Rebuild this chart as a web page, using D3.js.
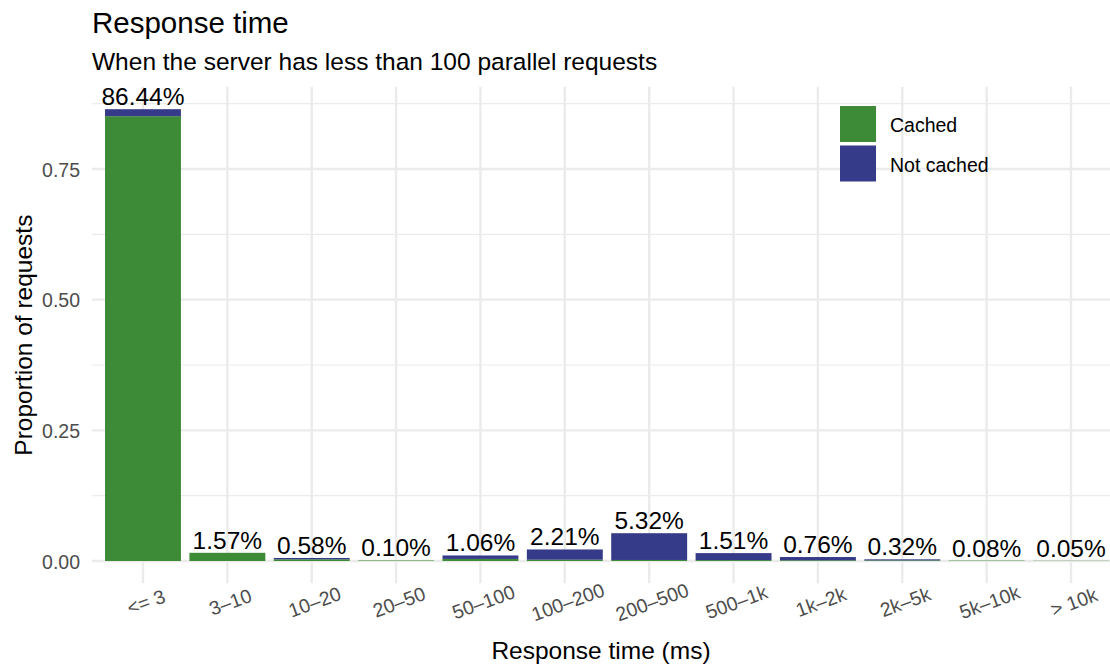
<!DOCTYPE html>
<html>
<head>
<meta charset="utf-8">
<script src="https://cdn.jsdelivr.net/npm/d3@7"></script>
<style>
  html, body { margin: 0; padding: 0; background: #fff; }
  svg { display: block; font-family: "Liberation Sans", Arial, Helvetica, sans-serif; }
</style>
</head>
<body>
<svg id="chart" width="1110" height="668"></svg>
<script>
const categories = ["<= 3", "3–10", "10–20", "20–50", "50–100", "100–200", "200–500", "500–1k", "1k–2k", "2k–5k", "5k–10k", "> 10k"];
const cached    = [0.8510, 0.0157, 0.0033, 0.0010, 0.0040, 0.0025, 0.0020, 0.0018, 0.0015, 0.0012, 0.0008, 0.0005];
const notCached = [0.0134, 0.0000, 0.0025, 0.0000, 0.0066, 0.0196, 0.0512, 0.0133, 0.0061, 0.0020, 0.0000, 0.0000];
const totalLabels = ["86.44%", "1.57%", "0.58%", "0.10%", "1.06%", "2.21%", "5.32%", "1.51%", "0.76%", "0.32%", "0.08%", "0.05%"];
const seriesNames = ["Cached", "Not cached"];
const seriesColors = ["#3d8b37", "#353b88"];
const yTicks = [0, 0.25, 0.5, 0.75];
const yMinor = [0.125, 0.375, 0.625, 0.875];

const svg = d3.select("#chart");
const panel = { left: 92, right: 1110, top: 86.6, bottom: 583.6 };

const rows = categories.map((c, i) => ({ cat: c, Cached: cached[i], "Not cached": notCached[i], label: totalLabels[i] }));
const stack = d3.stack().keys(seriesNames)(rows);
const maxTotal = d3.max(rows, d => d.Cached + d["Not cached"]);

const y = d3.scaleLinear()
  .domain([-0.05 * maxTotal, 1.05 * maxTotal])
  .range([panel.bottom, panel.top]);

const x = d3.scaleBand()
  .domain(categories)
  .range([100.8, 1113.2])
  .paddingInner(0.1)
  .paddingOuter(0.05);

svg.append("defs").append("clipPath").attr("id", "pclip")
  .append("rect").attr("x", panel.left).attr("y", panel.top)
  .attr("width", panel.right - panel.left).attr("height", panel.bottom - panel.top);

const grid = svg.append("g").attr("clip-path", "url(#pclip)");
grid.selectAll(".ymin").data(yMinor).join("line")
  .attr("x1", panel.left).attr("x2", panel.right)
  .attr("y1", d => y(d)).attr("y2", d => y(d))
  .attr("stroke", "#ebebeb").attr("stroke-width", 1.2);
grid.selectAll(".ymaj").data(yTicks).join("line")
  .attr("x1", panel.left).attr("x2", panel.right)
  .attr("y1", d => y(d)).attr("y2", d => y(d))
  .attr("stroke", "#ebebeb").attr("stroke-width", 2.4);
grid.selectAll(".xmaj").data(categories).join("line")
  .attr("x1", d => x(d) + x.bandwidth() / 2).attr("x2", d => x(d) + x.bandwidth() / 2)
  .attr("y1", panel.top).attr("y2", panel.bottom)
  .attr("stroke", "#ebebeb").attr("stroke-width", 2.4);

svg.append("g").selectAll("g").data(stack).join("g")
  .attr("fill", (d, i) => seriesColors[i])
  .selectAll("rect").data(d => d).join("rect")
  .attr("x", d => x(d.data.cat))
  .attr("width", x.bandwidth())
  .attr("y", d => y(d[1]))
  .attr("height", d => Math.max(0, y(d[0]) - y(d[1])));

svg.append("g").selectAll("text").data(rows).join("text")
  .attr("x", d => x(d.cat) + x.bandwidth() / 2)
  .attr("y", d => y(d.Cached + d["Not cached"]) - 4)
  .attr("text-anchor", "middle")
  .attr("font-size", 24.5)
  .attr("fill", "#000")
  .text(d => d.label);

const yAxis = d3.axisLeft(y).tickValues(yTicks).tickSize(0).tickPadding(0)
  .tickFormat(d3.format(".2f"));
const yg = svg.append("g").attr("transform", `translate(80,0)`).call(yAxis);
yg.select(".domain").remove();
yg.selectAll("text").attr("font-size", 19.5).attr("fill", "#4d4d4d")
  .attr("font-family", "Liberation Sans, Arial, sans-serif").attr("dy", "0.36em");

const xAxis = d3.axisBottom(x).tickSize(0).tickPadding(0);
const xg = svg.append("g").call(xAxis);
xg.select(".domain").remove();
xg.selectAll(".tick").attr("transform", d => `translate(${x(d) + x.bandwidth() / 2 + 3},602)`);
xg.selectAll("text")
  .attr("y", 0).attr("dy", "0.35em")
  .attr("text-anchor", "middle")
  .attr("transform", "rotate(-20)")
  .attr("font-size", 19.5).attr("fill", "#4d4d4d")
  .attr("font-family", "Liberation Sans, Arial, sans-serif");

svg.append("text")
  .attr("x", (panel.left + panel.right) / 2).attr("y", 659)
  .attr("text-anchor", "middle").attr("font-size", 24.5).attr("fill", "#000")
  .text("Response time (ms)");
svg.append("text")
  .attr("transform", `translate(32,${(panel.top + panel.bottom) / 2}) rotate(-90)`)
  .attr("text-anchor", "middle").attr("font-size", 24.5).attr("fill", "#000")
  .text("Proportion of requests");

svg.append("text").attr("x", 92).attr("y", 33)
  .attr("font-size", 29.5).attr("fill", "#000").text("Response time");
svg.append("text").attr("x", 92).attr("y", 70)
  .attr("font-size", 24.5).attr("fill", "#000").text("When the server has less than 100 parallel requests");

const lg = svg.append("g").attr("transform", "translate(840,106)");
const li = lg.selectAll("g").data(seriesNames).join("g")
  .attr("transform", (d, i) => `translate(0,${i * 39.5})`);
li.append("rect").attr("width", 36).attr("height", 36).attr("fill", (d, i) => seriesColors[i]);
li.append("text").attr("x", 50).attr("y", 26).attr("font-size", 19.5).attr("fill", "#000").text(d => d);
</script>
</body>
</html>
